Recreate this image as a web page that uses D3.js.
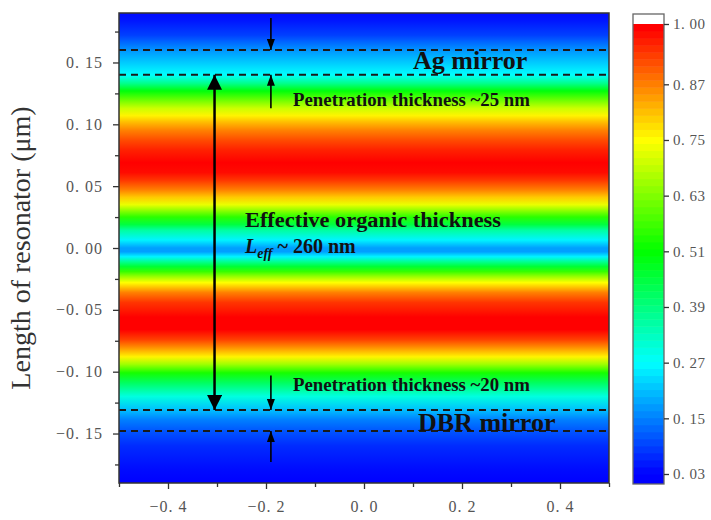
<!DOCTYPE html>
<html>
<head>
<meta charset="utf-8">
<script src="https://cdn.jsdelivr.net/npm/d3@7/dist/d3.min.js"></script>
<style>
  body { margin: 0; background: #fff; }
  svg { display: block; }
</style>
</head>
<body>
<svg id="chart" width="711" height="520"></svg>
<script>
// field intensity profile across the resonator (position in um, normalized |E|^2)
const positionUm = [0.19, 0.184, 0.172, 0.160, 0.150, 0.140, 0.133, 0.127, 0.119, 0.113,
                    0.107, 0.102, 0.095, 0.087, 0.079, 0.069, 0.061, 0.055, 0.047, 0.041,
                    0.035, 0.029, 0.025, 0.019, 0.0145, 0.0065, 0.0, -0.003, -0.007, -0.011,
                    -0.015, -0.019, -0.023, -0.028, -0.036, -0.044, -0.056, -0.060, -0.066, -0.074,
                    -0.080, -0.088, -0.094, -0.101, -0.109, -0.120, -0.131, -0.139, -0.148, -0.160,
                    -0.179, -0.19];
const intensity  = [0.04, 0.05, 0.09, 0.17, 0.22, 0.27, 0.38, 0.50, 0.62, 0.70,
                    0.76, 0.81, 0.87, 0.92, 0.96, 1.00, 0.98, 0.94, 0.87, 0.80,
                    0.73, 0.62, 0.55, 0.45, 0.36, 0.26, 0.18, 0.18, 0.26, 0.37,
                    0.46, 0.56, 0.65, 0.75, 0.87, 0.94, 0.99, 1.00, 0.99, 0.93,
                    0.86, 0.76, 0.66, 0.53, 0.42, 0.30, 0.21, 0.15, 0.11, 0.07,
                    0.04, 0.03];

// mirror boundaries (dashed lines)
const boundaries = [0.160, 0.140, -0.131, -0.148];

const xMajor = [-0.4, -0.2, 0.0, 0.2, 0.4];
const xMinor = [-0.5, -0.3, -0.1, 0.1, 0.3, 0.5];
const yMajor = [-0.15, -0.10, -0.05, 0.00, 0.05, 0.10, 0.15];
const yMinor = [-0.175, -0.125, -0.075, -0.025, 0.025, 0.075, 0.125, 0.175];
const cbTicks = [0.03, 0.15, 0.27, 0.39, 0.51, 0.63, 0.75, 0.87, 1.00];

const svg = d3.select("#chart");
const plot = {left: 119, right: 609, top: 13, bottom: 483};

const x = d3.scaleLinear().domain([-0.5, 0.5]).range([plot.left, plot.right]);
const y = d3.scaleLinear().domain([-0.19, 0.19]).range([plot.bottom, plot.top]);

const color = d3.scaleLinear()
    .domain([0.03, 0.27, 0.51, 0.75, 0.99])
    .range(["#0000ff", "#00ffff", "#00ff00", "#ffff00", "#ff0000"])
    .clamp(true);

const fmt = v => d3.format(".2f")(v).replace("-", "\u2212").replace(".", ". ");
const fmt1 = v => d3.format(".1f")(v).replace("-", "\u2212").replace(".", ". ");

// gradient built from the profile
const defs = svg.append("defs");
const grad = defs.append("linearGradient")
    .attr("id", "field")
    .attr("gradientUnits", "userSpaceOnUse")
    .attr("x1", 0).attr("x2", 0)
    .attr("y1", plot.top).attr("y2", plot.bottom);
grad.selectAll("stop")
    .data(positionUm.map((p, i) => ({p, v: intensity[i]})))
    .join("stop")
    .attr("offset", d => (y(d.p) - plot.top) / (plot.bottom - plot.top))
    .attr("stop-color", d => color(d.v));

svg.append("rect")
    .attr("x", plot.left).attr("y", plot.top)
    .attr("width", plot.right - plot.left).attr("height", plot.bottom - plot.top)
    .attr("fill", "url(#field)");

// dashed mirror boundaries
svg.selectAll(".bound")
    .data(boundaries)
    .join("line")
    .attr("class", "bound")
    .attr("x1", plot.left).attr("x2", plot.right)
    .attr("y1", d => y(d)).attr("y2", d => y(d))
    .attr("stroke", "#1a1a1a")
    .attr("stroke-width", 2)
    .attr("stroke-dasharray", "7,5");

// arrow markers
function arrowHead(id, w, h) {
    defs.append("marker")
        .attr("id", id)
        .attr("viewBox", `0 0 ${h} ${w}`)
        .attr("refX", h).attr("refY", w / 2)
        .attr("markerUnits", "userSpaceOnUse")
        .attr("markerWidth", h).attr("markerHeight", w)
        .attr("orient", "auto-start-reverse")
        .append("path")
        .attr("d", `M0,0L${h},${w / 2}L0,${w}Z`)
        .attr("fill", "#000");
}
arrowHead("bigHead", 15, 15);
arrowHead("smallHead", 8, 11);

// effective thickness double arrow
svg.append("line")
    .attr("x1", x(-0.305)).attr("x2", x(-0.305))
    .attr("y1", y(boundaries[1])).attr("y2", y(boundaries[2]))
    .attr("stroke", "#000").attr("stroke-width", 2.5)
    .attr("marker-start", "url(#bigHead)")
    .attr("marker-end", "url(#bigHead)");

// penetration arrows
const small = [
    {from: 0.186, to: boundaries[0]},
    {from: 0.113, to: boundaries[1]},
    {from: -0.103, to: boundaries[2]},
    {from: -0.173, to: boundaries[3]}
];
svg.selectAll(".pen")
    .data(small)
    .join("line")
    .attr("class", "pen")
    .attr("x1", x(-0.19)).attr("x2", x(-0.19))
    .attr("y1", d => y(d.from)).attr("y2", d => y(d.to))
    .attr("stroke", "#000").attr("stroke-width", 1.6)
    .attr("marker-end", "url(#smallHead)");

// annotations
const ann = svg.append("g")
    .attr("font-family", "'Liberation Serif', 'Times New Roman', serif")
    .attr("font-weight", "bold")
    .attr("fill", "#111");

ann.append("text").attr("x", 413).attr("y", 69).attr("font-size", 26).text("Ag mirror");
ann.append("text").attr("x", 418).attr("y", 431).attr("font-size", 26).text("DBR mirror");
ann.append("text").attr("x", 293).attr("y", 106).attr("font-size", 18)
    .attr("textLength", 237).attr("lengthAdjust", "spacingAndGlyphs")
    .text("Penetration thickness ~25 nm");
ann.append("text").attr("x", 293).attr("y", 391).attr("font-size", 18)
    .attr("textLength", 237).attr("lengthAdjust", "spacingAndGlyphs")
    .text("Penetration thickness ~20 nm");
ann.append("text").attr("x", 245).attr("y", 227).attr("font-size", 20)
    .attr("textLength", 256).attr("lengthAdjust", "spacingAndGlyphs")
    .text("Effective organic thickness");
const leff = ann.append("text").attr("x", 245).attr("y", 253).attr("font-size", 20);
leff.append("tspan").attr("font-style", "italic").text("L");
leff.append("tspan").attr("font-style", "italic").attr("font-size", 14).attr("dy", 5).text("eff");
leff.append("tspan").attr("dy", -5).text(" ~ 260 nm");

// frame
svg.append("rect")
    .attr("x", plot.left).attr("y", plot.top)
    .attr("width", plot.right - plot.left).attr("height", plot.bottom - plot.top)
    .attr("fill", "none").attr("stroke", "#333").attr("stroke-width", 1.5);

// axes
function styleAxis(g) {
    g.select(".domain").remove();
    g.selectAll(".tick line").attr("stroke", "#333").attr("stroke-width", 1.3);
    g.selectAll(".tick text")
        .attr("fill", "#555")
        .attr("font-family", "'Liberation Serif', 'Times New Roman', serif")
        .attr("font-size", 16)
        .attr("letter-spacing", 1)
        .style("white-space", "pre");
}

svg.append("g")
    .attr("transform", `translate(0,${plot.bottom})`)
    .call(d3.axisBottom(x).tickValues(xMinor).tickSize(4).tickFormat(""))
    .call(styleAxis);
svg.append("g")
    .attr("transform", `translate(0,${plot.bottom})`)
    .call(d3.axisBottom(x).tickValues(xMajor).tickSize(6).tickPadding(12).tickFormat(fmt1))
    .call(styleAxis);

svg.append("g")
    .attr("transform", `translate(${plot.left},0)`)
    .call(d3.axisLeft(y).tickValues(yMinor).tickSize(4).tickFormat(""))
    .call(styleAxis);
svg.append("g")
    .attr("transform", `translate(${plot.left},0)`)
    .call(d3.axisLeft(y).tickValues(yMajor).tickSize(6).tickPadding(10).tickFormat(fmt))
    .call(styleAxis);

svg.append("text")
    .attr("transform", `translate(30,${(plot.top + plot.bottom) / 2}) rotate(-90)`)
    .attr("text-anchor", "middle")
    .attr("font-family", "'Liberation Serif', 'Times New Roman', serif")
    .attr("font-size", 28)
    .attr("fill", "#333")
    .text("Length of resonator (\u03bcm)");

// colour bar
const cb = {left: 633, right: 664, top: 14, bottom: 484};
const cy = d3.scaleLinear().domain([0.03, 1.00]).range([474, 24]);
const nLevels = 64;
const step = (1.00 - 0.03) / nLevels;
const levels = d3.range(nLevels).map(i => 0.03 + i * step);

const cbG = svg.append("g");
cbG.append("rect")
    .attr("x", cb.left).attr("y", cy(0.03))
    .attr("width", cb.right - cb.left).attr("height", cb.bottom - cy(0.03))
    .attr("fill", color(0.03));
cbG.selectAll(".lvl")
    .data(levels)
    .join("rect")
    .attr("class", "lvl")
    .attr("x", cb.left)
    .attr("y", d => cy(d + step))
    .attr("width", cb.right - cb.left)
    .attr("height", d => cy(d) - cy(d + step) + 0.5)
    .attr("fill", d => color(d + step / 2));
cbG.append("rect")
    .attr("x", cb.left).attr("y", cb.top)
    .attr("width", cb.right - cb.left).attr("height", cy(1.00) - cb.top)
    .attr("fill", "#fff");
cbG.append("rect")
    .attr("x", cb.left).attr("y", cb.top)
    .attr("width", cb.right - cb.left).attr("height", cb.bottom - cb.top)
    .attr("fill", "none").attr("stroke", "#666").attr("stroke-width", 1.3);

svg.append("g")
    .attr("transform", `translate(${cb.right},0)`)
    .call(d3.axisRight(cy).tickValues(cbTicks).tickSize(5).tickPadding(4).tickFormat(fmt))
    .call(styleAxis)
    .call(g => g.selectAll(".tick text").attr("font-size", 15).attr("letter-spacing", 0.5));
</script>
</body>
</html>
